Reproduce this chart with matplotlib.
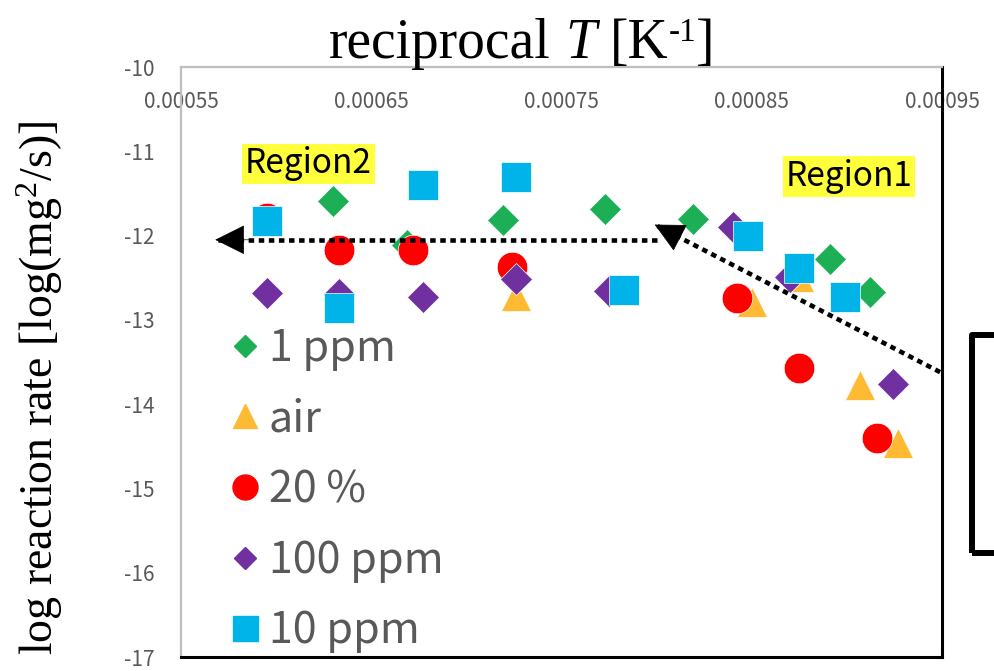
import matplotlib
matplotlib.use("Agg")
import matplotlib.pyplot as plt
from matplotlib.lines import Line2D
from matplotlib.patches import Rectangle
from matplotlib.ticker import FormatStrFormatter

plt.rcParams["axes.unicode_minus"] = False
plt.rcParams["mathtext.fontset"] = "custom"
plt.rcParams["mathtext.rm"] = "Liberation Serif"
plt.rcParams["mathtext.it"] = "Liberation Serif:italic"

# --- data (x = 1/T [K^-1], y = log rate) ---
x_1ppm = [0.000630, 0.000669, 0.000719, 0.000773, 0.000819, 0.000891, 0.000912]
y_1ppm = [-11.59, -12.11, -11.82, -11.68, -11.80, -12.28, -12.67]

x_air = [0.000726, 0.000850, 0.000875, 0.000907, 0.000927]
y_air = [-12.72, -12.79, -12.49, -13.77, -14.46]

x_20 = [0.000595, 0.000633, 0.000672, 0.000724, 0.000842, 0.000875, 0.000916]
y_20 = [-11.79, -12.17, -12.17, -12.37, -12.74, -13.57, -14.40]

x_100ppm = [0.000595, 0.000633, 0.000677, 0.000726, 0.000775, 0.000840, 0.000870, 0.000924]
y_100ppm = [-12.68, -12.69, -12.73, -12.51, -12.66, -11.90, -12.49, -13.76]

x_10ppm = [0.000595, 0.000633, 0.000677, 0.000726, 0.000783, 0.000848, 0.000875, 0.000899]
y_10ppm = [-11.83, -12.86, -11.40, -11.30, -12.65, -12.00, -12.38, -12.73]

x_ticks = [0.00055, 0.00065, 0.00075, 0.00085, 0.00095]
y_ticks = [-10, -11, -12, -13, -14, -15, -16, -17]

# arrows: (tail, tip)
arrow_region2 = ((0.000800, -12.05), (0.000568, -12.05))
arrow_region1 = ((0.000949, -13.62), (0.000799, -11.87))

GREEN = "#1DAF56"
ORANGE = "#FFBA33"
RED = "#FF0000"
PURPLE = "#7030A0"
BLUE = "#00B4EA"
GRAY = "#595959"
SANS = ["Noto Sans CJK JP", "DejaVu Sans"]
SERIF = "Liberation Serif"

fig = plt.figure(figsize=(9.94, 6.71), dpi=100)
ax = fig.add_axes([181 / 994, 1 - 657 / 671, 761 / 994, 590 / 671])

ax.plot(x_1ppm, y_1ppm, "D", ms=16, color=GREEN, mec="white", mew=0.5, ls="none")
ax.plot(x_air, y_air, "^", ms=22, color=ORANGE, mec="white", mew=0.5, ls="none")
ax.plot(x_20, y_20, "o", ms=22, color=RED, mec="white", mew=0.5, ls="none")
ax.plot(x_100ppm, y_100ppm, "D", ms=16, color=PURPLE, mec="white", mew=0.5, ls="none")
ax.plot(x_10ppm, y_10ppm, "s", ms=22, color=BLUE, mec="white", mew=0.5, ls="none")

ax.set_xlim(0.00055, 0.00095)
ax.set_ylim(-17, -10)
ax.set_xticks(x_ticks)
ax.set_yticks(y_ticks)
ax.xaxis.set_major_formatter(FormatStrFormatter("%.5f"))
ax.xaxis.tick_top()
ax.tick_params(axis="x", length=0, pad=-33, labelsize=15, labelcolor=GRAY)
ax.tick_params(axis="y", length=0, pad=19, labelsize=15, labelcolor=GRAY)
for lab in ax.get_xticklabels() + ax.get_yticklabels():
    lab.set_family(SANS)

for side in ["left", "top"]:
    ax.spines[side].set_color("#BFBFBF")
    ax.spines[side].set_linewidth(1.6)
for side in ["right", "bottom"]:
    ax.spines[side].set_color("black")
    ax.spines[side].set_linewidth(2.2)

# title built from pieces so the superscript keeps a plain hyphen
title_parts = [("reciprocal", 40, "normal", 0), (" ", 40, "normal", 0), ("T", 40, "italic", 0),
               (" ", 40, "normal", 0), ("[K", 40, "normal", 0), ("-1", 24, "normal", 17),
               ("]", 40, "normal", 0)]
renderer = fig.canvas.get_renderer()
space_px = 0.25 * 40 * fig.dpi / 72
widths = []
for s, size, style, rise in title_parts:
    if s == " ":
        widths.append(space_px)
        continue
    t = fig.text(0, 0, s, family=SERIF, fontsize=size, style=style)
    widths.append(t.get_window_extent(renderer).width)
    t.remove()
x_px = 522 - sum(widths) / 2
base_px = 671 - 58
for (s, size, style, rise), w in zip(title_parts, widths):
    if s != " ":
        fig.text(x_px / 994, (base_px + rise) / 671, s, family=SERIF, fontsize=size,
                 style=style, ha="left", va="baseline")
    x_px += w

fig.text(40 / 994, 1 - 388 / 671, r"log reaction rate [log(mg$^{2}$/s)]",
         family=SERIF, fontsize=33, ha="center", va="center", rotation=90)

# region labels
ax.text(0.000617, -11.15, "Region2", family=SANS, fontsize=24, ha="center", va="center",
        bbox=dict(facecolor="#FFFF3C", edgecolor="none", pad=2))
ax.text(0.000901, -11.30, "Region1", family=SANS, fontsize=24, ha="center", va="center",
        bbox=dict(facecolor="#FFFF3C", edgecolor="none", pad=2))

# dotted arrows: dotted shaft + solid filled head
for (x0, y0), (x1, y1) in [arrow_region2, arrow_region1]:
    ax.plot([x0, x1], [y0, y1], color="black", lw=3.3, ls=(0, (1.2, 1.0)),
            dash_capstyle="butt", clip_on=False)
    ax.annotate("", xy=(x1, y1), xytext=(x1 + (x0 - x1) * 0.08, y1 + (y0 - y1) * 0.08),
                arrowprops=dict(arrowstyle="-|>,head_length=0.9,head_width=0.45",
                                color="black", lw=0.5, mutation_scale=22,
                                shrinkA=0, shrinkB=0),
                annotation_clip=False)

# legend
handles = [
    Line2D([], [], marker="D", ls="none", ms=11, color=GREEN),
    Line2D([], [], marker="^", ls="none", ms=17, color=ORANGE),
    Line2D([], [], marker="o", ls="none", ms=18, color=RED),
    Line2D([], [], marker="D", ls="none", ms=11, color=PURPLE),
    Line2D([], [], marker="s", ls="none", ms=18, color=BLUE),
]
labels = ["1 ppm", "air", "20 %", "100 ppm", "10 ppm"]
leg = ax.legend(handles, labels, loc="lower left", bbox_to_anchor=(0.067, 0.006),
                frameon=False, handlelength=0.6, handletextpad=0.25, labelspacing=0.62,
                borderpad=0, borderaxespad=0, prop={"family": SANS, "size": 31})
for t in leg.get_texts():
    t.set_color(GRAY)

# bracket on the right edge
fig.add_artist(Rectangle((972 / 994, 1 - 553 / 671), 60 / 994, 218 / 671,
                         transform=fig.transFigure, fill=False, lw=4.3,
                         edgecolor="black", joinstyle="round", clip_on=False))

fig.savefig("out.png", dpi=100)
